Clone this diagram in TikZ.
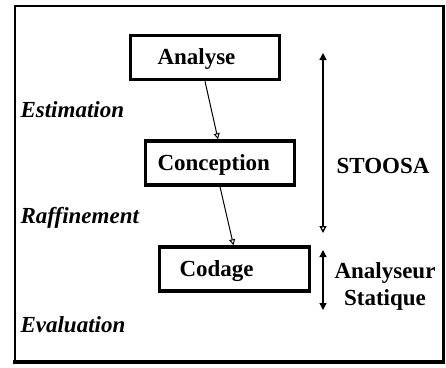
\documentclass[tikz,border=0pt]{standalone}
\usepackage{fontspec}
\setmainfont{Liberation Serif}
\usetikzlibrary{arrows.meta}
\newcommand{\boxtext}[1]{\raisebox{0pt}[19.5pt][5pt]{#1}}
\begin{document}
\begin{tikzpicture}[x=1pt,y=-1pt,
  box/.style={draw,line width=3.5pt,inner xsep=0pt,inner ysep=0pt,align=left,font=\fontsize{23}{27}\selectfont\bfseries},
  lbl/.style={font=\fontsize{23}{27}\selectfont\bfseries},
  side/.style={anchor=west,font=\fontsize{23}{27}\selectfont\bfseries\itshape},
  flow/.style={line width=1pt,-{Triangle[open,length=6pt,width=6pt]}},
  span/.style={line width=1.3pt}]
\useasboundingbox (0,0) rectangle (446,367);
\draw[line width=2.5pt] (15,6) rectangle (443.5,361);
\draw[line width=4pt] (13,361.5) -- (445,361.5);
\node[box,text width=149pt,minimum height=44pt] (A) at (205,57.5) {\hspace*{27pt}\boxtext{Analyse}};
\node[box,text width=149pt,minimum height=44pt] (C) at (220,163) {\hspace*{12pt}\boxtext{Conception}};
\node[box,text width=150pt,minimum height=44pt] (D) at (234.5,269) {\hspace*{20pt}\boxtext{Codage}};
\draw[flow] (A.south) -- ([xshift=-2pt]C.north);
\draw[flow] (C.south) -- ([xshift=-1pt]D.north);
\coordinate (s1) at (323,53);
\coordinate (s2) at (323,233);
\coordinate (a1) at (323,250);
\coordinate (a2) at (323,310);
\draw[span,{Triangle[length=7pt,width=7pt]}-{Triangle[open,length=7pt,width=7pt]}] (s1) -- (s2);
\draw[span,{Triangle[length=7pt,width=7pt]}-{Triangle[length=7pt,width=7pt]}] (a1) -- (a2);
\node[lbl] (st) at (383,166) {STOOSA};
\node[lbl,align=center] (an) at (385,286.5) {Analyseur\\Statique};
\node[side] (e1) at (17,110) {Estimation};
\node[side] (e2) at (17,218) {Raffinement};
\node[side] (e3) at (17,325) {Evaluation};
\end{tikzpicture}
\end{document}
